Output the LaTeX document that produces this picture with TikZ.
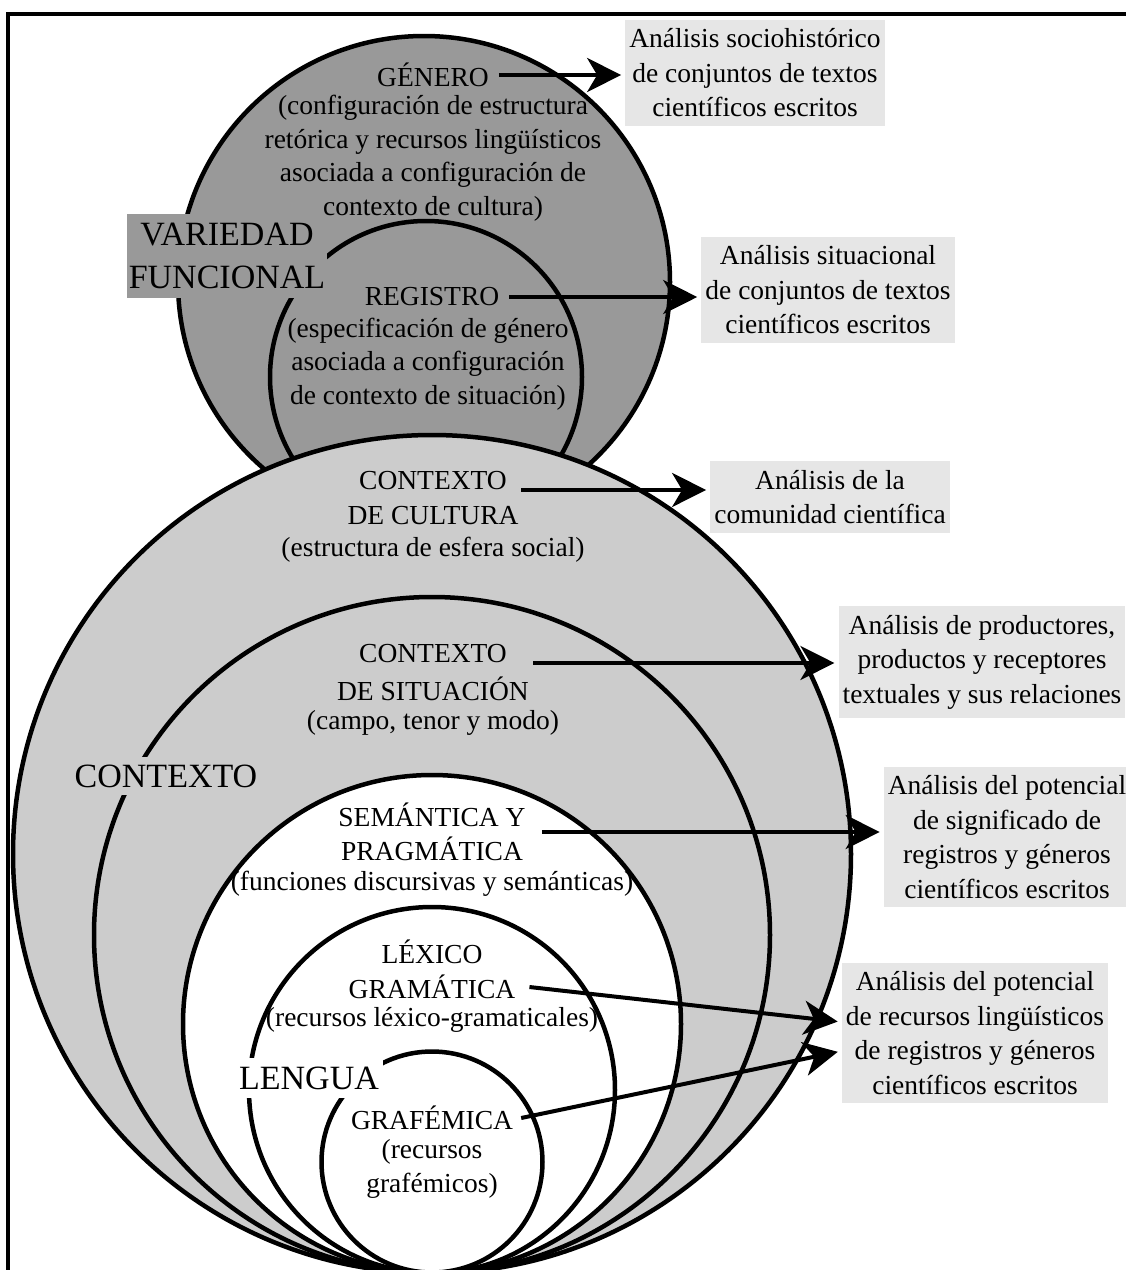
\documentclass[tikz,border=0pt]{standalone}
\usepackage{fontspec}
\setmainfont{Liberation Serif}
\usetikzlibrary{arrows.meta,calc}
\definecolor{vargray}{HTML}{999999}
\definecolor{ctxgray}{HTML}{CCCCCC}
\definecolor{boxgray}{HTML}{E6E6E6}
\newcommand{\txtfont}{\fontsize{27.5}{33.5}\selectfont}
\newcommand{\boxfont}{\fontsize{27.5}{34.5}\selectfont}
\newcommand{\lblfont}{\fontsize{34}{43}\selectfont}
\begin{document}
\begin{tikzpicture}[x=1pt,y=-1pt,
  ring/.style={line width=4.5pt},
  lab/.style={font=\txtfont, align=center, inner sep=0pt},
  biglab/.style={font=\lblfont, align=center, inner xsep=4pt, inner ysep=8pt},
  abox/.style={font=\boxfont, align=center, fill=boxgray, inner xsep=4pt, inner ysep=9pt},
  arr/.style={line width=4pt, -{Stealth[length=34pt,width=34pt,inset=10pt]}, shorten >=4pt},
]
\clip (0,0) rectangle (1126,1270);
\fill[white] (0,0) rectangle (1126,1270);
% open frame
\draw[line width=3.5pt] (8,1290) -- (8,14) -- (1150,14);

% functional variety: genre and register
\draw[ring, fill=vargray] (424,282) circle[radius=246pt];
\draw[ring] (426,377) circle[radius=156pt];
\node[biglab, fill=vargray, inner xsep=2pt, inner ysep=9pt] (vf) at (227,256) {VARIEDAD\\FUNCIONAL};

% context: culture and situation
\draw[ring, fill=ctxgray] (432,854) circle[radius=419pt];
\draw[ring, fill=ctxgray] (432,935) circle[radius=338pt];
\node[biglab, fill=ctxgray] (ctx) at (166,776) {CONTEXTO};

% language strata
\draw[ring, fill=white] (432,1024) circle[radius=249pt];
\draw[ring, fill=white] (432,1090) circle[radius=183pt];
\draw[ring, fill=white] (432,1162) circle[radius=110.5pt];
\node[biglab, fill=white, minimum height=40pt] (len) at (309,1078) {LENGUA};

% texts inside the circles
\node[lab] (gen) at (433,75) {GÉNERO};
\node[lab] (gend) at (433,158) {(configuración de estructura\\retórica y recursos lingüísticos\\asociada a configuración de\\contexto de cultura)};
\node[lab] (reg) at (432,297) {REGISTRO};
\node[lab] (regd) at (428,364) {(especificación de género\\asociada a configuración\\de contexto de situación)};
\node[lab] (cc1) at (433,481) {CONTEXTO};
\node[lab] (cc2) at (433,516) {DE CULTURA};
\node[lab] (ccd) at (433,550) {(estructura de esfera social)};
\node[lab] (cs1) at (433,654) {CONTEXTO};
\node[lab] (cs2) at (433,689) {DE SITUACIÓN};
\node[lab] (csd) at (433,723) {(campo, tenor y modo)};
\node[lab] (sem) at (432,832) {SEMÁNTICA Y\\PRAGMÁTICA};
\node[lab] (semd) at (432,884) {(funciones discursivas y semánticas)};
\node[lab] (lex1) at (432,952) {LÉXICO};
\node[lab] (lex2) at (432,987) {GRAMÁTICA};
\node[lab] (lexd) at (432,1020) {(recursos léxico-gramaticales)};
\node[lab] (gra) at (432,1118) {GRAFÉMICA};
\node[lab] (grad) at (432,1169) {(recursos\\grafémicos)};

% analysis boxes
\node[abox] (b1) at (755,73) {Análisis sociohistórico\\de conjuntos de textos\\científicos escritos};
\node[abox] (b2) at (828,290) {Análisis situacional\\de conjuntos de textos\\científicos escritos};
\node[abox] (b3) at (830,497) {Análisis de la\\comunidad científica};
\node[abox] (b4) at (982,662) {Análisis de productores,\\productos y receptores\\textuales y sus relaciones};
\node[abox] (b5) at (1007,837) {Análisis del potencial\\de significado de\\registros y géneros\\científicos escritos};
\node[abox] (b6) at (975,1033) {Análisis del potencial\\de recursos lingüísticos\\de registros y géneros\\científicos escritos};

% arrows
\draw[arr] ([xshift=10pt]gen.east) -- (gen.east -| b1.west);
\draw[arr] ([xshift=10pt]reg.east) -- (reg.east -| b2.west);
\draw[arr] ([xshift=14pt]cc1.base east) -- (cc1.base east -| b3.west);
\draw[arr] ([xshift=26pt]cs1.base east) -- (cs1.base east -| b4.west);
\draw[arr] ([xshift=16pt]sem.east) -- (sem.east -| b5.west);
\draw[arr] ([xshift=14pt]lex2.east) -- ([yshift=11pt]b6.west);
\draw[arr] ([xshift=8pt]gra.east) -- ([yshift=-18pt]b6.west);
\end{tikzpicture}
\end{document}
